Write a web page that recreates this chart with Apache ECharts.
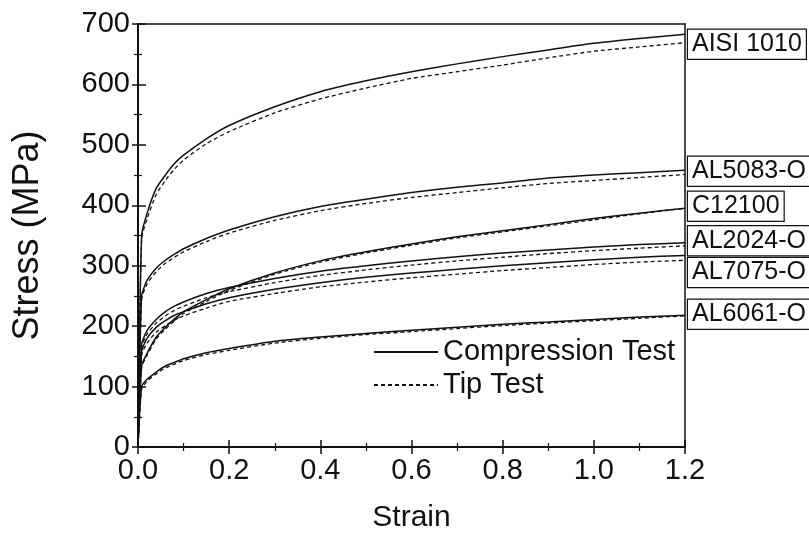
<!DOCTYPE html>
<html><head><meta charset="utf-8">
<script src="https://cdn.jsdelivr.net/npm/echarts@6/dist/echarts.min.js"></script>
<style>html,body{margin:0;padding:0;background:#fff}#c{width:809px;height:541px}</style>
</head><body><div id="c"></div>
<script>
const strain = [0, 0.008, 0.02, 0.04, 0.06, 0.08, 0.1, 0.15, 0.2, 0.3, 0.4, 0.5, 0.6, 0.7, 0.8, 0.9, 1.0, 1.1, 1.2];
const materials = ['AISI 1010', 'AL5083-O', 'C12100', 'AL2024-O', 'AL7075-O', 'AL6061-O'];
const AISI_C   = [0,350,387,428,450,469,483,510,532,563,588,606,621,634,646,657,668,676,683];
const AISI_T   = [0,345,378,418,441,460,475,502,522,553,576,594,610,621,632,644,655,662,669];
const AL5083_C = [0,250,276,296,309,319,328,345,359,381,398,410,421,430,437,445,450,454,458];
const AL5083_T = [0,245,270,290,304,314,323,340,354,375,391,403,413,421,429,436,441,446,451];
const C12100_C = [0,135,155,182,198,212,224,244,262,288,308,323,336,348,358,368,378,387,395];
const C12100_T = [0,132,152,179,195,209,221,241,259,286,306,321,334,346,356,366,376,386,395];
const AL2024_C = [0,170,193,211,224,233,240,254,264,279,291,300,308,315,321,326,331,335,338];
const AL2024_T = [0,165,187,205,217,226,233,247,257,272,284,293,301,308,314,320,325,329,333];
const AL7075_C = [0,158,180,198,209,218,224,237,247,261,272,281,288,294,300,305,310,314,317];
const AL7075_T = [0,152,172,190,201,210,217,230,241,254,265,273,280,286,292,297,302,306,309];
const AL6061_C = [0,100,112,124,134,140,146,156,163,175,182,188,193,198,203,207,211,215,218];
const AL6061_T = [0,96,109,121,131,137,143,153,160,172,180,186,191,196,201,205,209,213,217];
const legendNames = ['Compression Test', 'Tip Test'];

const compression = [AISI_C, AL5083_C, C12100_C, AL2024_C, AL7075_C, AL6061_C];
const tip = [AISI_T, AL5083_T, C12100_T, AL2024_T, AL7075_T, AL6061_T];
const labelOffsets = [[0, 10], [0, 1], [0, -2], [0, -2], [0, 17], [0, -1]];

function pts(arr) { return strain.map((s, i) => [s, arr[i]]); }

const series = [];
compression.forEach((arr, k) => {
  series.push({
    name: legendNames[0], type: 'line', data: pts(arr), symbol: 'none', smooth: 0.2,
    lineStyle: { color: '#111', width: 1.5, type: 'solid' }, itemStyle: { color: '#111' },
    z: 3,
    endLabel: {
      show: true, formatter: materials[k], distance: 3, offset: labelOffsets[k],
      fontFamily: 'Liberation Sans', fontSize: 25, color: '#111', lineHeight: 26,
      borderColor: '#111', borderWidth: 1.2, padding: [2, 4, 1, 4], backgroundColor: '#fff'
    }
  });
});
tip.forEach((arr) => {
  series.push({
    name: legendNames[1], type: 'line', data: pts(arr), symbol: 'none', smooth: 0.2,
    lineStyle: { color: '#111', width: 1.3, type: [4, 3] }, itemStyle: { color: '#111' }, z: 2
  });
});

const axisFont = { fontFamily: 'Liberation Sans', fontSize: 29, color: '#111' };
const chart = echarts.init(document.getElementById('c'));
chart.setOption({
  animation: false,
  backgroundColor: '#fff',
  grid: { left: 138, right: 124, top: 24, bottom: 94, outerBoundsMode: 'none' },
  legend: {
    left: 368, top: 332, orient: 'vertical', itemWidth: 64, itemHeight: 14, itemGap: 3,
    data: legendNames, selectedMode: false,
    itemStyle: { opacity: 0 },
    textStyle: { fontFamily: 'Liberation Sans', fontSize: 29, color: '#111', lineHeight: 30 }
  },
  xAxis: [
    { type: 'value', min: 0, max: 1.2, interval: 0.2, position: 'bottom',
      axisLine: { show: true, onZero: false, lineStyle: { color: '#111', width: 2 } },
      axisTick: { show: true, inside: false, length: 7, lineStyle: { color: '#111', width: 1.5 } },
      minorTick: { show: true, splitNumber: 2, length: 4, lineStyle: { color: '#111', width: 1.2 } },
      axisLabel: Object.assign({ margin: 9, formatter: v => v.toFixed(1) }, axisFont),
      splitLine: { show: false },
      name: 'Strain', nameLocation: 'middle', nameGap: 56,
      nameTextStyle: { fontFamily: 'Liberation Sans', fontSize: 30, color: '#111' } },
    { type: 'value', min: 0, max: 1.2, interval: 0.2, position: 'bottom',
      axisLine: { show: false, onZero: false },
      axisTick: { show: true, inside: true, length: 7, lineStyle: { color: '#111', width: 1.5 } },
      minorTick: { show: true, splitNumber: 2, length: 4, lineStyle: { color: '#111', width: 1.2 } },
      axisLabel: { show: false }, splitLine: { show: false } },
    { type: 'value', min: 0, max: 1.2, position: 'top',
      axisLine: { show: true, onZero: false, lineStyle: { color: '#111', width: 1.5 } },
      axisTick: { show: false }, axisLabel: { show: false }, splitLine: { show: false } }
  ],
  yAxis: [
    { type: 'value', min: 0, max: 700, interval: 100, position: 'left',
      axisLine: { show: true, onZero: false, lineStyle: { color: '#111', width: 2 } },
      axisTick: { show: true, inside: false, length: 6, lineStyle: { color: '#111', width: 1.5 } },
      minorTick: { show: true, splitNumber: 2, length: 4, lineStyle: { color: '#111', width: 1.2 } },
      axisLabel: Object.assign({ margin: 8 }, axisFont),
      splitLine: { show: false },
      name: 'Stress (MPa)', nameLocation: 'middle', nameGap: 92, nameRotate: 90,
      nameTextStyle: { fontFamily: 'Liberation Sans', fontSize: 36, color: '#111' } },
    { type: 'value', min: 0, max: 700, interval: 100, position: 'left',
      axisLine: { show: false, onZero: false },
      axisTick: { show: true, inside: true, length: 8, lineStyle: { color: '#111', width: 1.5 } },
      minorTick: { show: true, splitNumber: 2, length: 4, lineStyle: { color: '#111', width: 1.2 } },
      axisLabel: { show: false }, splitLine: { show: false } },
    { type: 'value', min: 0, max: 700, position: 'right',
      axisLine: { show: true, onZero: false, lineStyle: { color: '#111', width: 1.5 } },
      axisTick: { show: false }, axisLabel: { show: false }, splitLine: { show: false } }
  ],
  series: series
});
</script></body></html>
